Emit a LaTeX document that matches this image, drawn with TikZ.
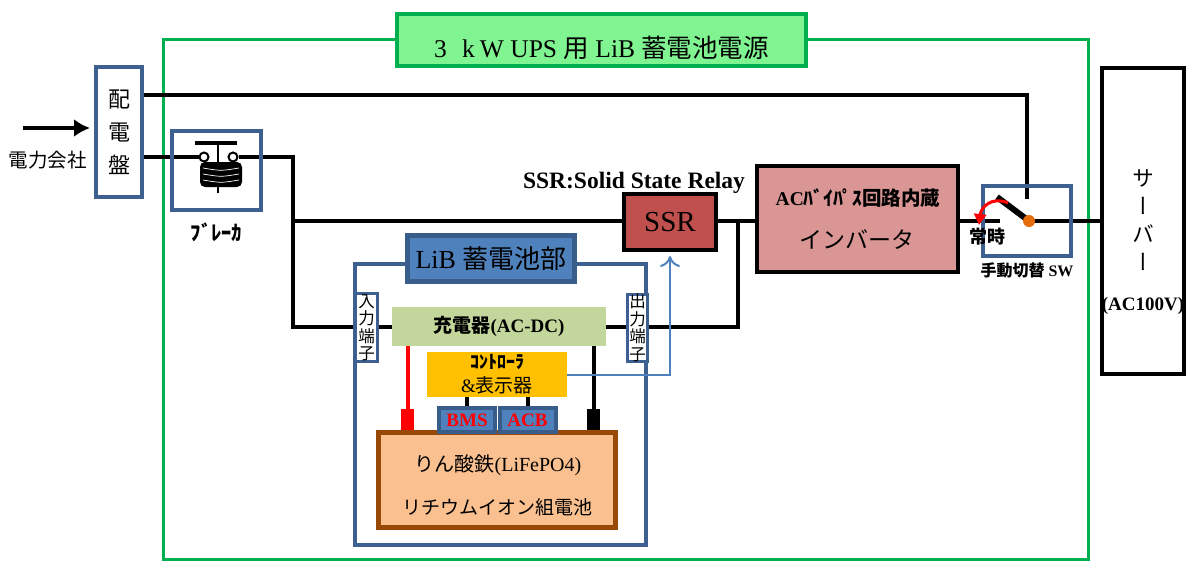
\documentclass[tikz,border=0pt]{standalone}
\usepackage{fontspec}
\setmainfont{Liberation Serif}
\newfontfamily\jp{Noto Sans CJK JP}
\newfontfamily\jpv[RawFeature=+vert]{Noto Sans CJK JP}
\usepackage{tikz}
\usetikzlibrary{positioning, shapes.geometric, arrows, arrows.meta, backgrounds}
\usepackage{xcolor}
\definecolor{framegreen}{RGB}{0,176,80}
\definecolor{titlegreen}{RGB}{128,244,144}
\definecolor{frameblue}{RGB}{62,96,145}
\definecolor{libblue}{RGB}{79,129,189}
\definecolor{libdark}{RGB}{56,93,138}
\definecolor{ssrred}{RGB}{192,80,77}
\definecolor{invpink}{RGB}{217,150,148}
\definecolor{chggreen}{RGB}{195,214,155}
\definecolor{ctrlorange}{RGB}{255,192,0}
\definecolor{batfill}{RGB}{250,192,144}
\definecolor{batdraw}{RGB}{152,72,7}
\definecolor{pivotdot}{RGB}{228,108,10}
\tikzstyle{panel}   = [rectangle, draw=frameblue, line width=4pt, inner sep=0pt, text centered]
\tikzstyle{block}   = [rectangle, draw=black, line width=4pt, inner sep=0pt, text centered]
\tikzstyle{plain}   = [rectangle, inner sep=0pt, text centered]
\tikzstyle{chip}    = [rectangle, draw=libdark, fill=libblue, line width=4pt, minimum width=56pt, minimum height=24pt, inner sep=0pt, text=red, font=\bfseries\fontsize{19}{19}\selectfont]
\tikzstyle{contact} = [circle, draw=black, line width=2pt, fill=white, minimum size=9pt, inner sep=0pt]
\tikzstyle{lbl}     = [inner sep=0pt, text centered]
\tikzstyle{wire}    = [line width=4.5pt]

\begin{document}
\begin{tikzpicture}[x=1pt, y=-1pt]
            \useasboundingbox (0,0) rectangle (1188,563);
            \coordinate (feed) at (23,128);
            \coordinate (top) at (1027,95);
            \coordinate (swtop) at (1027,199);
            \coordinate (jA) at (293,157);
            \coordinate (jB) at (293,221);
            \coordinate (jC) at (293,327);
            \coordinate (jD) at (738,221);
            \coordinate (jE) at (738,327);
            \coordinate (nc) at (1000,221);
            \coordinate (pv) at (1029,221);
            \coordinate (arm) at (997,197);
            \coordinate (rs) at (1008,203);
            \coordinate (re) at (979,225);

            \node[draw=framegreen, fill=titlegreen, line width=4pt, minimum width=409pt, minimum height=52pt, text height=34pt, text depth=0pt, font=\fontsize{25.5}{25.5}\selectfont] (title) at (601.5,40) {3\hspace{0.6em}k\hspace{0.2em}W UPS {\jp 用} LiB {\jp 蓄電池電源}};

            \node[panel, minimum width=46pt, minimum height=130pt, align=center, font=\jp\fontsize{22}{33}\selectfont] (haiden) at (119,132) {配\\電\\盤};
            \node[lbl, font=\jp\fontsize{19.5}{19.5}\selectfont] (denryoku) at (48,160) {電力会社};

            \node[panel, minimum width=89pt, minimum height=79pt] (brk) at (216.5,170.5) {};
            \node[lbl, font=\jp\bfseries\fontsize{20.5}{20.5}\selectfont, below=11pt of brk] (brklbl) {ﾌﾞﾚｰｶ};
            \draw[line width=3.5pt] (195,143) -- (237,143);
            \draw[line width=2.5pt] (218,143) -- (218,193);
            \fill[rounded corners=5pt] (200,162) rectangle (242,187);
            \foreach \y in {168,174,180}
                \draw[white, line width=0.7pt] (203,\y) .. controls (221,{\y+3}) .. (239,\y);
            \node[contact] (cinL) at (204,157) {};
            \node[contact] (cinR) at (233,157) {};

            \node[block, fill=ssrred, minimum width=92pt, minimum height=56pt, font=\fontsize{29}{29}\selectfont] (ssr) at (670,222) {SSR};
            \node[lbl, font=\bfseries\fontsize{23.5}{23.5}\selectfont, above=-2pt of ssr, xshift=-36pt] (ssrlbl) {SSR:Solid State Relay};

            \node[block, fill=invpink, minimum width=201pt, minimum height=106pt] (inv) at (857.5,219) {};
            \node[lbl, font=\bfseries\fontsize{19.5}{19.5}\selectfont] (invtop) at (858,198) {AC{\jp ﾊﾞｲﾊﾟｽ回路内蔵}};
            \node[lbl, font=\jp\fontsize{23}{23}\selectfont] (invname) at (857,240) {インバータ};

            \node[panel, minimum width=88pt, minimum height=70pt] (sw) at (1027,221) {};
            \node[lbl, font=\bfseries\fontsize{16}{16}\selectfont, below=5pt of sw] (swlbl) {{\jp 手動切替} SW};
            \node[lbl, font=\jp\bfseries\fontsize{18}{18}\selectfont] (joji) at (987,237) {常時};
            \draw[line width=6pt] (arm) -- (pv);
            \node[circle, fill=pivotdot, minimum size=12pt, inner sep=0pt] (piv) at (pv) {};
            \draw[red, line width=3pt, -{Triangle[length=11pt, width=12pt]}] (rs) .. controls (992,196) and (981,207) .. (re);

            \node[block, minimum width=82pt, minimum height=306pt] (srv) at (1143,221) {};
            \node[lbl, align=center, font=\jpv\fontsize{22}{28}\selectfont] (srvname) at (1143,220) {サ\\ー\\バ\\ー};
            \node[lbl, font=\bfseries\fontsize{19}{19}\selectfont] (srvac) at (1143,306) {(AC100V)};

            \node[panel, minimum width=291pt, minimum height=281pt] (lib) at (500.5,404.5) {};
            \node[rectangle, draw=libdark, fill=libblue, line width=5pt, minimum width=167pt, minimum height=46pt, font=\fontsize{26}{26}\selectfont] (libt) at (491,258.5) {LiB {\jp 蓄電池部}};
            \node[panel, line width=3pt, fill=white, minimum width=22pt, minimum height=68pt, align=center, font=\jp\fontsize{16.5}{17.5}\selectfont] (inT) at (366.5,327.5) {入\\力\\端\\子};
            \node[panel, line width=3pt, fill=white, minimum width=20pt, minimum height=67pt, align=center, font=\jp\fontsize{16.5}{17.5}\selectfont] (outT) at (637.5,328) {出\\力\\端\\子};
            \node[plain, fill=chggreen, minimum width=214pt, minimum height=39pt, font=\bfseries\fontsize{19}{19}\selectfont] (chg) at (499,326.5) {{\jp 充電器}(AC-DC)};
            \node[plain, fill=ctrlorange, minimum width=140pt, minimum height=45pt] (ctrl) at (497,374.5) {};
            \node[lbl, font=\jp\bfseries\fontsize{18}{18}\selectfont] (ctrltop) at (497,362) {ｺﾝﾄﾛｰﾗ};
            \node[lbl, font=\fontsize{19}{19}\selectfont] (ctrlbot) at (497,385) {\&{\jp 表示器}};
            \node[rectangle, draw=batdraw, fill=batfill, line width=5pt, minimum width=237pt, minimum height=95pt] (bat) at (497,480) {};
            \node[lbl, font=\fontsize{20}{20}\selectfont] (battop) at (498,465) {{\jp りん酸鉄}(LiFePO4)};
            \node[lbl, font=\jp\fontsize{19}{19}\selectfont] (batbot) at (497,507) {リチウムイオン組電池};
            \node[chip] (bms) at (467,420) {BMS};
            \node[chip] (acb) at (527.5,420) {ACB};
            \node[plain, fill=red, minimum width=13pt, minimum height=21pt] (plus) at (407.5,419.5) {};
            \node[plain, fill=black, minimum width=13pt, minimum height=21pt] (minus) at (593.5,419.5) {};

            \draw[libblue, line width=2pt, -{To[length=11pt, width=20pt]}, shorten >=4pt] (ctrl.east) -| (ssr.south);

            \begin{pgfonlayer}{background}
            \node[draw=framegreen, line width=3pt, minimum width=925pt, minimum height=520pt] (ups) at (626,299.5) {};
            \draw[wire, -{Latex[length=16pt, width=18pt]}, shorten >=4pt] (feed) -- (feed -| haiden.west);
            \draw[wire] (haiden.east |- top) -- (top) -- (swtop);
            \draw[wire] (haiden.east |- cinL) -- (cinL);
            \draw[wire] (cinR) -- (jA) -- (jC) -- (chg.west |- jC);
            \draw[wire] (jB) -- (jB -| ssr.west);
            \draw[wire] (jB -| ssr.east) -- (jB -| inv.west);
            \draw[wire] (jD) -- (jE) -- (chg.east |- jE);
            \draw[wire] (jB -| inv.east) -- (nc);
            \draw[wire] (pv) -- (pv -| srv.west);
            \draw[red, line width=4pt] (chg.south -| plus) -- (plus);
            \draw[line width=4pt] (chg.south -| minus) -- (minus);
            \draw[line width=4pt] (bms.north) -- (bms.north |- ctrl.south);
            \draw[line width=4pt] (acb.north) -- (acb.north |- ctrl.south);
            \end{pgfonlayer}
        \end{tikzpicture}
\end{document}
